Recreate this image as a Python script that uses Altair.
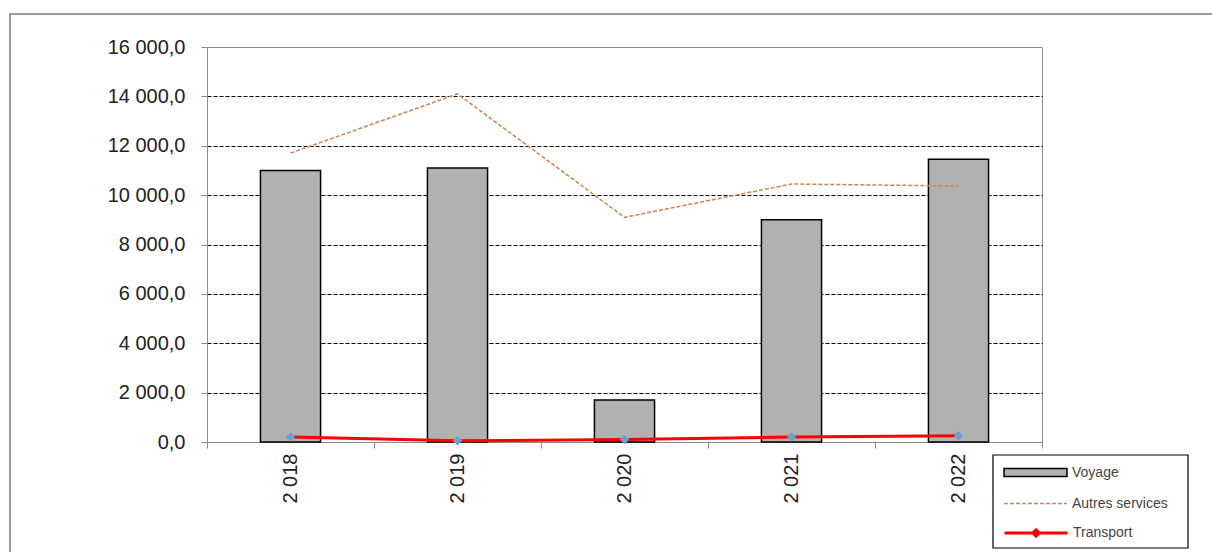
import altair as alt
import pandas as pd

years = [2018, 2019, 2020, 2021, 2022]
voyage = [11000, 11100, 1700, 9000, 11450]
autres_services = [11700, 14100, 9100, 10450, 10370]
transport = [200, 50, 100, 200, 250]
y_ticks = [0, 2000, 4000, 6000, 8000, 10000, 12000, 14000, 16000]

df = pd.DataFrame({
    "annee": years,
    "Voyage": voyage,
    "Autres services": autres_services,
    "Transport": transport,
})
df["s_v"] = "Voyage"
df["s_a"] = "Autres services"
df["s_t"] = "Transport"

FONT = "Liberation Sans"
AX_GREY = "#8a8a8a"

x_axis = alt.Axis(
    title=None, labelAngle=270, labelFontSize=20, labelFont=FONT, labelColor="#222",
    labelPadding=5, tickSize=6, tickColor=AX_GREY, domainColor=AX_GREY, tickBand="extent",
    labelExpr="slice(datum.label, 0, 1) + ' ' + slice(datum.label, 1)",
)
x_scale = alt.Scale(paddingInner=0, paddingOuter=0)

y_axis = alt.Axis(
    title=None, values=y_ticks, labelFontSize=20, labelFont=FONT, labelColor="#222",
    labelPadding=16, tickSize=6, tickColor=AX_GREY, domainColor=AX_GREY,
    labelExpr="replace(replace(format(datum.value, ',.1f'), ',', ' '), '.', ',')",
    grid=True, gridColor="black", gridDash=[4, 2], gridWidth=1.2,
    gridOpacity={"condition": {"test": "datum.value === 0 || datum.value === 16000", "value": 0}, "value": 1},
)
y_scale = alt.Scale(domain=[0, 16000], nice=False)


def xenc():
    return alt.X("annee:O", scale=x_scale, axis=x_axis)


def yenc(field):
    return alt.Y(f"{field}:Q", scale=y_scale, axis=y_axis)


base = alt.Chart(df)

frame = alt.Chart(alt.Data(values=[{"a": 1}])).mark_rect(
    fillOpacity=0, stroke="#7a7a7a", strokeWidth=1.5
).encode(x=alt.value(-197), x2=alt.value(1400), y=alt.value(-33), y2=alt.value(700))

LEG = dict(labelFont=FONT, labelFontSize=14, labelColor="#444", labelOffset=4, title=None,
           orient="none", padding=0)

bars = base.mark_bar(width=alt.RelativeBandSize(0.36), stroke="black", strokeWidth=1.5).encode(
    x=xenc(),
    y=yenc("Voyage"),
    fill=alt.Fill(
        "s_v:N",
        scale=alt.Scale(domain=["Voyage"], range=["#b3b1b0"]),
        legend=alt.Legend(
            legendX=796, legendY=393,
            symbolType="M-1,-0.13H1V0.13H-1Z", symbolSize=3969,
            symbolStrokeColor="black", symbolStrokeWidth=1.5, **LEG,
        ),
    ),
)

autres = base.mark_line(strokeWidth=1.5, color="#c98650").encode(
    x=xenc(),
    y=yenc("Autres services"),
    strokeDash=alt.StrokeDash(
        "s_a:N",
        scale=alt.Scale(domain=["Autres services"], range=[[4, 2]]),
        legend=alt.Legend(
            legendX=796, legendY=424,
            symbolType="stroke", symbolSize=3969, symbolStrokeColor="#c98650",
            symbolStrokeWidth=1.3, **LEG,
        ),
    ),
)

transport_line = base.mark_line(strokeWidth=3).encode(
    x=xenc(),
    y=yenc("Transport"),
    stroke=alt.Stroke(
        "s_t:N",
        scale=alt.Scale(domain=["Transport"], range=["#ff0000"]),
        legend=alt.Legend(
            legendX=796, legendY=453,
            symbolType="M-1,0H1M0,-0.1L0.1,0L0,0.1L-0.1,0Z", symbolSize=3969,
            symbolStrokeColor="#ff0000", symbolFillColor="#5b9bd5", symbolStrokeWidth=3, **LEG,
        ),
    ),
)

transport_pts = base.mark_point(shape="diamond", filled=True, size=90, color="#6a9fd4", opacity=1).encode(
    x=xenc(),
    y=yenc("Transport"),
)

legend_box = alt.Chart(alt.Data(values=[{"a": 1}])).mark_rect(
    fill="white", stroke="black", strokeWidth=1.2
).encode(x=alt.value(786), x2=alt.value(981), y=alt.value(408), y2=alt.value(501))

chart = alt.layer(frame, bars, autres, transport_line, transport_pts, legend_box).properties(
    width=835,
    height=395,
    padding={"left": 207, "top": 47, "right": 170, "bottom": 110},
    autosize=alt.AutoSizeParams(type="none"),
    background="white",
).configure_view(stroke=AX_GREY, strokeWidth=1)

chart.save("out.html", embed_options={"renderer": "svg", "actions": False})
